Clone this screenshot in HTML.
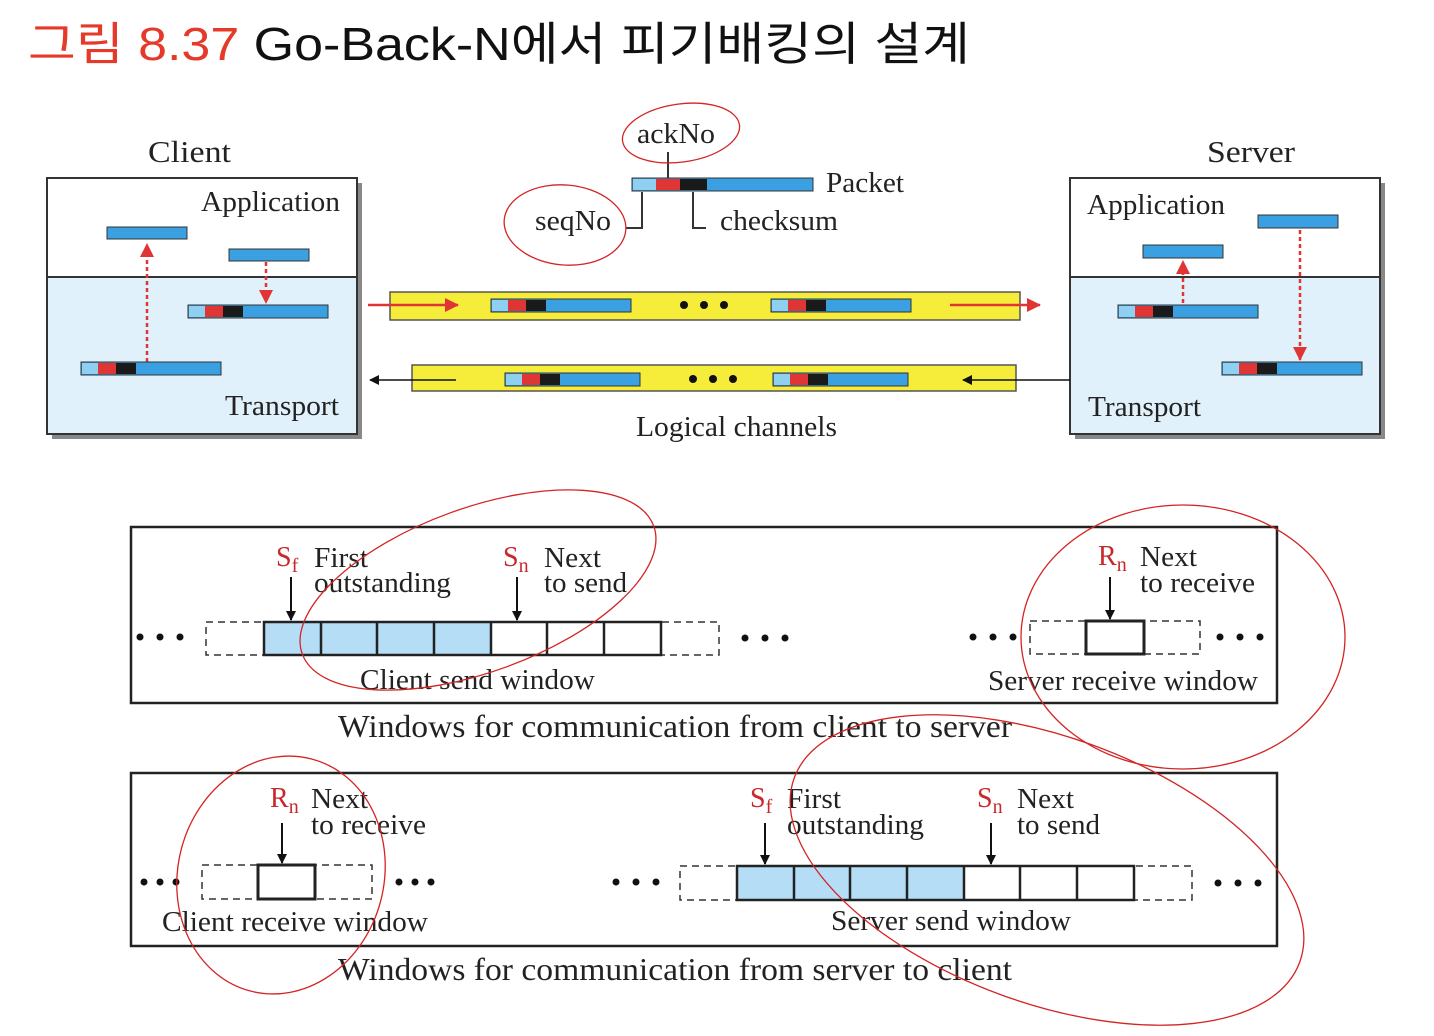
<!DOCTYPE html>
<html><head><meta charset="utf-8"><style>
html,body{margin:0;padding:0;background:#fff;overflow:hidden}
svg{display:block}
.s{font-family:"Liberation Serif",serif;fill:#222;}
.r{fill:#c8282c;}
</style></head><body>
<svg width="1434" height="1036" viewBox="0 0 1434 1036" xmlns="http://www.w3.org/2000/svg">
<defs>
<marker id="ab" markerWidth="10" markerHeight="10" refX="9" refY="5" orient="auto" markerUnits="userSpaceOnUse"><path d="M0,0 L10,5 L0,10 z" fill="#111"/></marker>
<marker id="ar" markerWidth="14" markerHeight="14" refX="13" refY="7" orient="auto" markerUnits="userSpaceOnUse"><path d="M0,0 L14,7 L0,14 z" fill="#e03535"/></marker>
</defs>
<text x="28" y="60" font-family="'Liberation Sans','Noto Sans CJK KR',sans-serif" font-size="46" textLength="942" lengthAdjust="spacingAndGlyphs"><tspan fill="#e53a2a">그림 8.37</tspan><tspan fill="#111"> Go-Back-N에서 피기배킹의 설계</tspan></text>

<!-- Client box -->
<rect x="52" y="183" width="310" height="256" fill="#888"/>
<rect x="47" y="178" width="310" height="256" fill="#fff" stroke="#333" stroke-width="2"/>
<rect x="48" y="277" width="308" height="156" fill="#e0f1fb"/>
<line x1="47" y1="277" x2="357" y2="277" stroke="#333" stroke-width="2"/>
<text class="s" x="148" y="162" font-size="31" textLength="83" lengthAdjust="spacingAndGlyphs">Client</text>
<text class="s" x="201" y="211" font-size="29" textLength="139" lengthAdjust="spacingAndGlyphs">Application</text>
<text class="s" x="225" y="415" font-size="29" textLength="114" lengthAdjust="spacingAndGlyphs">Transport</text>
<rect x="107" y="227" width="80" height="12" fill="#3aa0e2" stroke="#333"/>
<rect x="229" y="249" width="80" height="12" fill="#3aa0e2" stroke="#333"/>
<line x1="147" y1="362" x2="147" y2="244" stroke="#e03535" stroke-width="2.5" stroke-dasharray="4,3" marker-end="url(#ar)"/>
<line x1="266" y1="262" x2="266" y2="303" stroke="#e03535" stroke-width="2.5" stroke-dasharray="4,3" marker-end="url(#ar)"/>
<rect x="188" y="305" width="140" height="13" fill="#3aa0e2" stroke="#333"/><rect x="189" y="306" width="16" height="11" fill="#8fd0f2"/><rect x="205" y="306" width="18" height="11" fill="#e03535"/><rect x="223" y="306" width="20" height="11" fill="#1a1a1a"/>
<rect x="81" y="362" width="140" height="13" fill="#3aa0e2" stroke="#333"/><rect x="82" y="363" width="16" height="11" fill="#8fd0f2"/><rect x="98" y="363" width="18" height="11" fill="#e03535"/><rect x="116" y="363" width="20" height="11" fill="#1a1a1a"/>

<!-- Server box -->
<rect x="1075" y="183" width="310" height="256" fill="#888"/>
<rect x="1070" y="178" width="310" height="256" fill="#fff" stroke="#333" stroke-width="2"/>
<rect x="1071" y="277" width="308" height="156" fill="#e0f1fb"/>
<line x1="1070" y1="277" x2="1380" y2="277" stroke="#333" stroke-width="2"/>
<text class="s" x="1207" y="162" font-size="31" textLength="88" lengthAdjust="spacingAndGlyphs">Server</text>
<text class="s" x="1087" y="214" font-size="29" textLength="138" lengthAdjust="spacingAndGlyphs">Application</text>
<text class="s" x="1088" y="416" font-size="29" textLength="113" lengthAdjust="spacingAndGlyphs">Transport</text>
<rect x="1258" y="215" width="80" height="13" fill="#3aa0e2" stroke="#333"/>
<rect x="1143" y="245" width="80" height="13" fill="#3aa0e2" stroke="#333"/>
<line x1="1183" y1="303" x2="1183" y2="261" stroke="#e03535" stroke-width="2.5" stroke-dasharray="4,3" marker-end="url(#ar)"/>
<line x1="1300" y1="230" x2="1300" y2="360" stroke="#e03535" stroke-width="2.5" stroke-dasharray="4,3" marker-end="url(#ar)"/>
<rect x="1118" y="305" width="140" height="13" fill="#3aa0e2" stroke="#333"/><rect x="1119" y="306" width="16" height="11" fill="#8fd0f2"/><rect x="1135" y="306" width="18" height="11" fill="#e03535"/><rect x="1153" y="306" width="20" height="11" fill="#1a1a1a"/>
<rect x="1222" y="362" width="140" height="13" fill="#3aa0e2" stroke="#333"/><rect x="1223" y="363" width="16" height="11" fill="#8fd0f2"/><rect x="1239" y="363" width="18" height="11" fill="#e03535"/><rect x="1257" y="363" width="20" height="11" fill="#1a1a1a"/>

<!-- top packet -->
<rect x="632" y="178" width="181" height="13" fill="#3aa0e2" stroke="#333"/><rect x="633" y="179" width="23" height="11" fill="#8fd0f2"/><rect x="656" y="179" width="24" height="11" fill="#e03535"/><rect x="680" y="179" width="27" height="11" fill="#1a1a1a"/>
<polyline points="642,192 642,228 626,228" fill="none" stroke="#333" stroke-width="2"/>
<polyline points="693,192 693,228 706,228" fill="none" stroke="#333" stroke-width="2"/>
<line x1="668" y1="178" x2="668" y2="152" stroke="#333" stroke-width="2"/>
<text class="s" x="637" y="143" font-size="29" textLength="78" lengthAdjust="spacingAndGlyphs">ackNo</text>
<text class="s" x="826" y="192" font-size="29" textLength="78" lengthAdjust="spacingAndGlyphs">Packet</text>
<text class="s" x="535" y="230" font-size="29" textLength="76" lengthAdjust="spacingAndGlyphs">seqNo</text>
<text class="s" x="720" y="230" font-size="29" textLength="118" lengthAdjust="spacingAndGlyphs">checksum</text>

<!-- channels -->
<rect x="390" y="292" width="630" height="28" fill="#f6ec3a" stroke="#555" stroke-width="1.5"/>
<rect x="412" y="365" width="604" height="26" fill="#f6ec3a" stroke="#555" stroke-width="1.5"/>
<rect x="491" y="299" width="140" height="13" fill="#3aa0e2" stroke="#333"/><rect x="492" y="300" width="16" height="11" fill="#8fd0f2"/><rect x="508" y="300" width="18" height="11" fill="#e03535"/><rect x="526" y="300" width="20" height="11" fill="#1a1a1a"/>
<rect x="771" y="299" width="140" height="13" fill="#3aa0e2" stroke="#333"/><rect x="772" y="300" width="16" height="11" fill="#8fd0f2"/><rect x="788" y="300" width="18" height="11" fill="#e03535"/><rect x="806" y="300" width="20" height="11" fill="#1a1a1a"/>
<rect x="505" y="373" width="135" height="13" fill="#3aa0e2" stroke="#333"/><rect x="506" y="374" width="16" height="11" fill="#8fd0f2"/><rect x="522" y="374" width="18" height="11" fill="#e03535"/><rect x="540" y="374" width="20" height="11" fill="#1a1a1a"/>
<rect x="773" y="373" width="135" height="13" fill="#3aa0e2" stroke="#333"/><rect x="774" y="374" width="16" height="11" fill="#8fd0f2"/><rect x="790" y="374" width="18" height="11" fill="#e03535"/><rect x="808" y="374" width="20" height="11" fill="#1a1a1a"/>
<g fill="#111"><circle cx="684" cy="305" r="4"/><circle cx="704" cy="305" r="4"/><circle cx="724" cy="305" r="4"/>
<circle cx="693" cy="379" r="4"/><circle cx="713" cy="379" r="4"/><circle cx="733" cy="379" r="4"/></g>
<line x1="368" y1="305" x2="458" y2="305" stroke="#e03535" stroke-width="2.5" marker-end="url(#ar)"/>
<line x1="950" y1="305" x2="1040" y2="305" stroke="#e03535" stroke-width="2.5" marker-end="url(#ar)"/>
<line x1="456" y1="380" x2="370" y2="380" stroke="#111" stroke-width="1.5" marker-end="url(#ab)"/>
<line x1="1070" y1="380" x2="963" y2="380" stroke="#111" stroke-width="1.5" marker-end="url(#ab)"/>
<text class="s" x="636" y="436" font-size="29" textLength="201" lengthAdjust="spacingAndGlyphs">Logical channels</text>

<!-- window box 1 -->
<rect x="131" y="527" width="1146" height="176" fill="#fff" stroke="#222" stroke-width="2.5"/>
<g fill="#111"><circle cx="140" cy="637" r="3.5"/><circle cx="160" cy="637" r="3.5"/><circle cx="180" cy="637" r="3.5"/>
<circle cx="745" cy="638" r="3.5"/><circle cx="765" cy="638" r="3.5"/><circle cx="785" cy="638" r="3.5"/>
<circle cx="973" cy="637" r="3.5"/><circle cx="993" cy="637" r="3.5"/><circle cx="1013" cy="637" r="3.5"/>
<circle cx="1220" cy="637" r="3.5"/><circle cx="1240" cy="637" r="3.5"/><circle cx="1260" cy="637" r="3.5"/></g>
<rect x="206" y="622" width="513" height="33" fill="none" stroke="#333" stroke-width="1.5" stroke-dasharray="7,5"/>
<rect x="264" y="622" width="227" height="33" fill="#b5ddf6"/>
<rect x="491" y="622" width="170" height="33" fill="#fff"/>
<g stroke="#222" stroke-width="2.5" fill="none"><rect x="264" y="622" width="397" height="33"/>
<line x1="321" y1="622" x2="321" y2="655"/><line x1="377" y1="622" x2="377" y2="655"/><line x1="434" y1="622" x2="434" y2="655"/><line x1="491" y1="622" x2="491" y2="655"/><line x1="547" y1="622" x2="547" y2="655"/><line x1="604" y1="622" x2="604" y2="655"/></g>
<line x1="291" y1="577" x2="291" y2="620" stroke="#111" stroke-width="2" marker-end="url(#ab)"/>
<line x1="517" y1="577" x2="517" y2="620" stroke="#111" stroke-width="2" marker-end="url(#ab)"/>
<text class="s r" x="276" y="566" font-size="28">S<tspan font-size="20" dy="6">f</tspan></text>
<text class="s" x="314" y="567" font-size="29" textLength="54" lengthAdjust="spacingAndGlyphs">First</text>
<text class="s" x="314" y="592" font-size="29" textLength="137" lengthAdjust="spacingAndGlyphs">outstanding</text>
<text class="s r" x="503" y="566" font-size="28">S<tspan font-size="20" dy="6">n</tspan></text>
<text class="s" x="544" y="567" font-size="29" textLength="57" lengthAdjust="spacingAndGlyphs">Next</text>
<text class="s" x="544" y="592" font-size="29" textLength="83" lengthAdjust="spacingAndGlyphs">to send</text>
<text class="s" x="360" y="689" font-size="29" textLength="235" lengthAdjust="spacingAndGlyphs">Client send window</text>
<rect x="1030" y="621" width="170" height="33" fill="none" stroke="#333" stroke-width="1.5" stroke-dasharray="7,5"/>
<rect x="1086" y="621" width="58" height="33" fill="#fff" stroke="#222" stroke-width="3"/>
<line x1="1110" y1="577" x2="1110" y2="619" stroke="#111" stroke-width="2" marker-end="url(#ab)"/>
<text class="s r" x="1098" y="565" font-size="28">R<tspan font-size="20" dy="6">n</tspan></text>
<text class="s" x="1140" y="566" font-size="29" textLength="57" lengthAdjust="spacingAndGlyphs">Next</text>
<text class="s" x="1140" y="592" font-size="29" textLength="115" lengthAdjust="spacingAndGlyphs">to receive</text>
<text class="s" x="988" y="690" font-size="29" textLength="270" lengthAdjust="spacingAndGlyphs">Server receive window</text>
<text class="s" x="338" y="737" font-size="32" textLength="674" lengthAdjust="spacingAndGlyphs">Windows for communication from client to server</text>

<!-- window box 2 -->
<rect x="131" y="773" width="1146" height="173" fill="#fff" stroke="#222" stroke-width="2.5"/>
<g fill="#111"><circle cx="144" cy="882" r="3.5"/><circle cx="160" cy="882" r="3.5"/><circle cx="176" cy="882" r="3.5"/>
<circle cx="399" cy="882" r="3.5"/><circle cx="415" cy="882" r="3.5"/><circle cx="431" cy="882" r="3.5"/>
<circle cx="616" cy="882" r="3.5"/><circle cx="636" cy="882" r="3.5"/><circle cx="656" cy="882" r="3.5"/>
<circle cx="1218" cy="883" r="3.5"/><circle cx="1238" cy="883" r="3.5"/><circle cx="1258" cy="883" r="3.5"/></g>
<rect x="202" y="865" width="170" height="34" fill="none" stroke="#333" stroke-width="1.5" stroke-dasharray="7,5"/>
<rect x="258" y="865" width="57" height="34" fill="#fff" stroke="#222" stroke-width="3"/>
<line x1="282" y1="823" x2="282" y2="863" stroke="#111" stroke-width="2" marker-end="url(#ab)"/>
<text class="s r" x="270" y="807" font-size="28">R<tspan font-size="20" dy="6">n</tspan></text>
<text class="s" x="311" y="808" font-size="29" textLength="57" lengthAdjust="spacingAndGlyphs">Next</text>
<text class="s" x="311" y="834" font-size="29" textLength="115" lengthAdjust="spacingAndGlyphs">to receive</text>
<text class="s" x="162" y="931" font-size="29" textLength="266" lengthAdjust="spacingAndGlyphs">Client receive window</text>
<rect x="680" y="866" width="512" height="34" fill="none" stroke="#333" stroke-width="1.5" stroke-dasharray="7,5"/>
<rect x="737" y="866" width="227" height="34" fill="#b5ddf6"/>
<rect x="964" y="866" width="170" height="34" fill="#fff"/>
<g stroke="#222" stroke-width="2.5" fill="none"><rect x="737" y="866" width="397" height="34"/>
<line x1="794" y1="866" x2="794" y2="900"/><line x1="850" y1="866" x2="850" y2="900"/><line x1="907" y1="866" x2="907" y2="900"/><line x1="964" y1="866" x2="964" y2="900"/><line x1="1020" y1="866" x2="1020" y2="900"/><line x1="1077" y1="866" x2="1077" y2="900"/></g>
<line x1="765" y1="823" x2="765" y2="864" stroke="#111" stroke-width="2" marker-end="url(#ab)"/>
<line x1="991" y1="823" x2="991" y2="864" stroke="#111" stroke-width="2" marker-end="url(#ab)"/>
<text class="s r" x="750" y="807" font-size="28">S<tspan font-size="20" dy="6">f</tspan></text>
<text class="s" x="787" y="808" font-size="29" textLength="54" lengthAdjust="spacingAndGlyphs">First</text>
<text class="s" x="787" y="834" font-size="29" textLength="137" lengthAdjust="spacingAndGlyphs">outstanding</text>
<text class="s r" x="977" y="807" font-size="28">S<tspan font-size="20" dy="6">n</tspan></text>
<text class="s" x="1017" y="808" font-size="29" textLength="57" lengthAdjust="spacingAndGlyphs">Next</text>
<text class="s" x="1017" y="834" font-size="29" textLength="83" lengthAdjust="spacingAndGlyphs">to send</text>
<text class="s" x="831" y="930" font-size="29" textLength="240" lengthAdjust="spacingAndGlyphs">Server send window</text>
<text class="s" x="338" y="980" font-size="32" textLength="674" lengthAdjust="spacingAndGlyphs">Windows for communication from server to client</text>

<!-- red hand-drawn annotations -->
<g fill="none" stroke="#d42424" stroke-width="1.3">
<ellipse cx="681" cy="133" rx="59" ry="29" transform="rotate(-8 681 133)"/>
<ellipse cx="565" cy="225" rx="61" ry="40" transform="rotate(5 565 225)"/>
<ellipse cx="478" cy="590" rx="187" ry="82" transform="rotate(-20 478 590)"/>
<ellipse cx="1183" cy="637" rx="162" ry="132"/>
<ellipse cx="281" cy="875" rx="103" ry="120" transform="rotate(15 281 875)"/>
<ellipse cx="1047" cy="870" rx="269" ry="133" transform="rotate(20 1047 870)"/>
</g>
</svg>
</body></html>
